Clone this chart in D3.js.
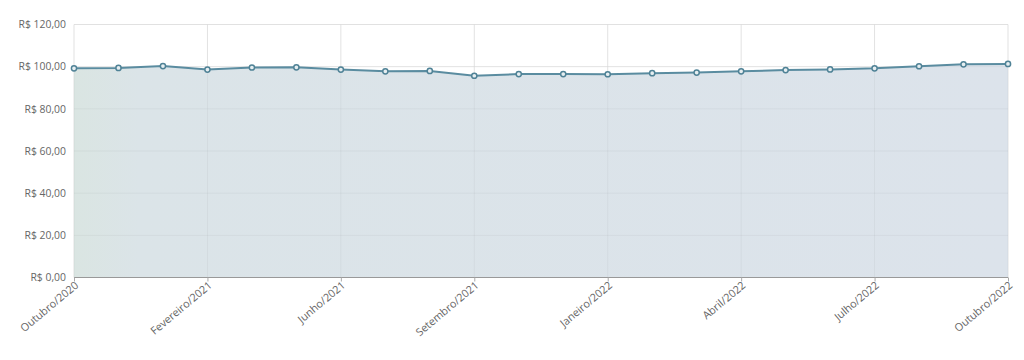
<!DOCTYPE html>
<html><head><meta charset="utf-8">
<script src="https://cdn.jsdelivr.net/npm/d3@7"></script>
<style>body{margin:0;background:#fff}svg{display:block}text{font-family:"Open Sans",sans-serif}</style>
</head><body><svg id="c" width="1024" height="360"></svg>
<script>
const categories = ["Outubro/2020","Novembro/2020","Dezembro/2020","Fevereiro/2021","Março/2021","Abril/2021","Junho/2021","Julho/2021","Agosto/2021","Setembro/2021","Outubro/2021","Novembro/2021","Janeiro/2022","Fevereiro/2022","Março/2022","Abril/2022","Maio/2022","Junho/2022","Julho/2022","Agosto/2022","Setembro/2022","Outubro/2022"];
const values = [99.2,99.4,100.3,98.6,99.6,99.7,98.6,97.8,98.0,95.7,96.5,96.5,96.4,96.9,97.2,97.8,98.4,98.7,99.2,100.2,101.1,101.3];
const yTicks = [0,20,40,60,80,100,120];

const svg = d3.select("#c");
const L=74,R=1008,T=24.5,B=277.5;
const x = d3.scalePoint().domain(categories).range([L,R]);
const y = d3.scaleLinear().domain([0,120]).range([B,T]);
const fmt = v => "R$ " + v.toFixed(2).replace(".",",");
const shown = categories.filter((d,i)=>i%3===0);

const defs = svg.append("defs");
const g = defs.append("linearGradient").attr("id","fg").attr("x1","0").attr("x2","1").attr("y1","0").attr("y2","0");
g.append("stop").attr("offset","0").attr("stop-color","#dae5e2");
g.append("stop").attr("offset","0.07").attr("stop-color","#dbe4e8");
g.append("stop").attr("offset","1").attr("stop-color","#dce3eb");

svg.append("g").selectAll("line").data(yTicks).join("line")
  .attr("x1",L).attr("x2",R).attr("y1",d=>y(d)).attr("y2",d=>y(d))
  .attr("stroke","#ebebeb").attr("stroke-width",1);
svg.append("g").selectAll("line").data(shown).join("line")
  .attr("x1",d=>x(d)).attr("x2",d=>x(d)).attr("y1",T).attr("y2",B)
  .attr("stroke","#ebebeb").attr("stroke-width",1);

svg.append("path").datum(values)
  .attr("d", d3.area().x((d,i)=>x(categories[i])).y0(y(0)).y1(d=>y(d)))
  .attr("fill","url(#fg)");

svg.append("g").selectAll("line").data(yTicks.slice(1)).join("line")
  .attr("x1",L).attr("x2",R).attr("y1",d=>y(d)).attr("y2",d=>y(d))
  .attr("stroke","rgba(0,0,0,0.04)");
svg.append("g").selectAll("line").data(shown).join("line")
  .attr("x1",d=>x(d)).attr("x2",d=>x(d)).attr("y1",T).attr("y2",B)
  .attr("stroke","rgba(0,0,0,0.04)");

const ya = svg.append("g").attr("transform",`translate(${L},0)`)
  .call(d3.axisLeft(y).tickValues(yTicks).tickFormat(fmt).tickSize(0).tickPadding(8));
ya.select(".domain").remove();
ya.selectAll("text").attr("fill","#666").style("font-size","10.4px").style("font-family","Open Sans");

const xa = svg.append("g").attr("transform",`translate(0,${B})`)
  .call(d3.axisBottom(x).tickValues(shown).tickSize(4).tickPadding(1));
xa.select(".domain").attr("stroke","#999").attr("stroke-width",1.2).attr("d",`M${L},0H${R}`);
xa.selectAll(".tick line").attr("stroke","#aaa");
xa.selectAll("text").attr("fill","#666").style("font-size","10.8px").style("font-family","Open Sans")
  .attr("text-anchor","end").attr("transform","rotate(-40)").attr("dx","-0.2em").attr("dy","0.45em");

svg.append("path").datum(values)
  .attr("d", d3.line().x((d,i)=>x(categories[i])).y(d=>y(d)))
  .attr("fill","none").attr("stroke","#5a8ca0").attr("stroke-width",2);
svg.append("g").selectAll("circle").data(values).join("circle")
  .attr("cx",(d,i)=>x(categories[i])).attr("cy",d=>y(d)).attr("r",2.6)
  .attr("fill","#e6eef1").attr("stroke","#4f8296").attr("stroke-width",1.5);
</script></body></html>
